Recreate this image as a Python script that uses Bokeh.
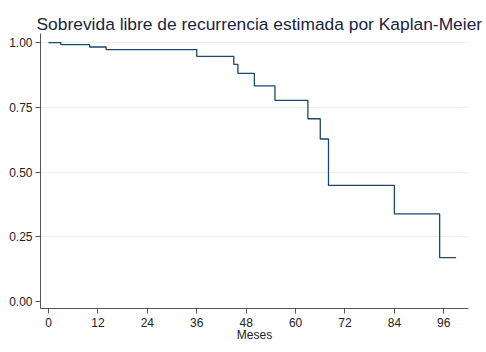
from bokeh.plotting import figure
from bokeh.models import Range1d, FixedTicker
from bokeh.embed import file_html
from bokeh.resources import INLINE

# Kaplan-Meier step data
event_months = [0, 3, 10, 14, 36, 45, 46, 50, 55, 63, 66, 68, 84, 95]
survival = [1.000, 0.992, 0.983, 0.973, 0.947, 0.916, 0.881, 0.833, 0.777, 0.706, 0.628, 0.449, 0.339, 0.170]
last_followup = 99

x_ticks = [0, 12, 24, 36, 48, 60, 72, 84, 96]
y_ticks = [0.0, 0.25, 0.5, 0.75, 1.0]
y_tick_labels = {0.0: "0.00", 0.25: "0.25", 0.5: "0.50", 0.75: "0.75", 1.0: "1.00"}

FONT = "Liberation Sans"
LINE_COLOR = "#1a476f"
AXIS_COLOR = "#555555"

p = figure(width=486, height=352, output_backend="svg", toolbar_location=None,
           x_range=Range1d(-1.94, 102.0), y_range=Range1d(-0.026, 1.035),
           min_border_left=40, min_border_right=18, min_border_top=33, min_border_bottom=44)

p.title.text = "Sobrevida libre de recurrencia estimada por Kaplan-Meier"
p.title.align = "left"
p.title.offset = -4
p.title.text_font = FONT
p.title.text_font_size = "17.4px"
p.title.text_font_style = "normal"
p.title.text_color = "#1a2540"
p.title.standoff = 0

xs = event_months + [last_followup]
ys = survival + [survival[-1]]
p.step(xs, ys, mode="after", line_color=LINE_COLOR, line_width=1.3)

p.outline_line_color = None
p.background_fill_color = "white"
p.border_fill_color = "white"

# grid
p.xgrid.visible = False
p.ygrid.ticker = FixedTicker(ticks=[0.25, 0.5, 0.75, 1.0])
p.ygrid.grid_line_color = "#e8f0f2"
p.ygrid.grid_line_width = 1.2

# x axis
p.xaxis.ticker = FixedTicker(ticks=x_ticks)
p.xaxis.axis_label = "Meses"
p.xaxis.axis_label_text_font = FONT
p.xaxis.axis_label_text_font_style = "normal"
p.xaxis.axis_label_text_font_size = "12px"
p.xaxis.axis_label_text_color = "#222222"
p.xaxis.axis_label_standoff = -2
p.xaxis.major_label_text_font = FONT
p.xaxis.major_label_text_font_size = "12px"
p.xaxis.major_label_text_color = "#222222"
p.xaxis.major_label_standoff = 4

# y axis
p.yaxis.ticker = FixedTicker(ticks=y_ticks)
p.yaxis.major_label_overrides = y_tick_labels
p.yaxis.major_label_orientation = "horizontal"
p.yaxis.major_label_text_font = FONT
p.yaxis.major_label_text_font_size = "12px"
p.yaxis.major_label_text_color = "#222222"
p.yaxis.major_label_standoff = 3

for ax in (p.xaxis, p.yaxis):
    ax.axis_line_color = AXIS_COLOR
    ax.major_tick_line_color = AXIS_COLOR
    ax.major_tick_out = 5
    ax.major_tick_in = 0
    ax.minor_tick_line_color = None

open("out.html", "w").write(file_html(p, INLINE))
